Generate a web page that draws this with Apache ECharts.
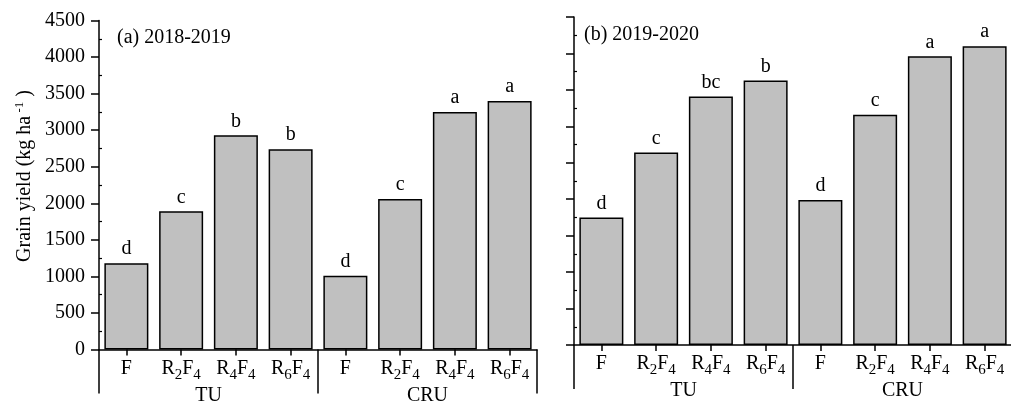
<!DOCTYPE html>
<html>
<head>
<meta charset="utf-8">
<script src="https://cdn.jsdelivr.net/npm/echarts@6/dist/echarts.min.js"></script>
<style>
  html, body { margin: 0; padding: 0; background: #fff; }
  #chart { width: 1011px; height: 403px; }
</style>
</head>
<body>
<div id="chart"></div>
<script>
// Grain yield by tillage group and treatment, two seasons
const treatments = ['F', 'R2F4', 'R4F4', 'R6F4'];
const groups = ['TU', 'CRU'];
const yieldTicks = [0, 500, 1000, 1500, 2000, 2500, 3000, 3500, 4000, 4500];

const yield2018 = [1180, 1890, 2930, 2740, 1010, 2060, 3250, 3400];
const letters2018 = ['d', 'c', 'b', 'b', 'd', 'c', 'a', 'a'];

const yield2019 = [1750, 2640, 3410, 3630, 1990, 3160, 3960, 4100];
const letters2019 = ['d', 'c', 'bc', 'b', 'd', 'c', 'a', 'a'];

const panelTitles = ['(a) 2018-2019', '(b) 2019-2020'];

// one category per group/treatment pair
const categories = [];
groups.forEach(g => treatments.forEach(t => categories.push(g + '|' + t)));

// minor tick positions halfway between the labelled ticks
const minorTicks = yieldTicks.slice(0, -1).map((v, k) => (v + yieldTicks[k + 1]) / 2);

const FONT = 'Liberation Serif';
const INK = '#000';
const FS = 20;

function treatmentLabel(v) {
  const t = v.split('|')[1];
  const m = t.match(/^R(\d)F(\d)$/);
  if (m) return '{m|R}{s|' + m[1] + '}{m|F}{s|' + m[2] + '}';
  return '{m|' + t + '}';
}

const richSub = {
  m: { fontFamily: FONT, fontSize: FS, color: INK, lineHeight: 28, verticalAlign: 'middle' },
  s: { fontFamily: FONT, fontSize: 15, color: INK, lineHeight: 15, verticalAlign: 'bottom' }
};

const grids = [
  { left: 99, top: 20.5, width: 438, height: 329 },
  { left: 574, top: 17, width: 438, height: 328 }
];

const xAxes = [];
const yAxes = [];
const series = [];
const datasets = [[yield2018, letters2018], [yield2019, letters2019]];

grids.forEach((g, i) => {
  // treatment axis
  xAxes.push({
    type: 'category', gridIndex: i, data: categories, position: 'bottom',
    axisLine: { show: true, lineStyle: { color: INK, width: 1.5 } },
    axisTick: { show: true, alignWithLabel: true, length: 6, inside: false, lineStyle: { color: INK, width: 1.5 } },
    axisLabel: { formatter: treatmentLabel, rich: richSub, margin: 5, interval: 0 },
    splitLine: { show: false }
  });
  // group brackets (TU / CRU)
  xAxes.push({
    type: 'category', gridIndex: i, data: groups, position: 'bottom',
    axisLine: { show: false },
    axisTick: { show: true, length: 44, interval: 0, lineStyle: { color: INK, width: 1.5 } },
    axisLabel: { fontFamily: FONT, fontSize: FS, color: INK, margin: 36, interval: 0 },
    splitLine: { show: false }
  });
  // yield axis with major ticks outside
  yAxes.push({
    type: 'value', gridIndex: i, min: 0, max: 4500, interval: 500,
    name: i === 0 ? '{m|Grain yield (kg ha}{p| -1}{m| )}' : '',
    nameLocation: 'middle', nameGap: 62, nameRotate: 90,
    nameTextStyle: {
      padding: [0, 0, 0, 18],
      rich: {
        m: { fontFamily: FONT, fontSize: FS, color: INK, lineHeight: 24, verticalAlign: 'middle' },
        p: { fontFamily: FONT, fontSize: 13, color: INK, lineHeight: 24, verticalAlign: 'top', padding: [0, 0, 8, 0] }
      }
    },
    axisLine: { show: true, lineStyle: { color: INK, width: 1.5 } },
    axisTick: { show: true, length: 8, inside: false, lineStyle: { color: INK, width: 1.5 } },
    axisLabel: {
      show: i === 0, margin: 14, fontFamily: FONT, fontSize: FS, color: INK,
      formatter: v => String(v)
    },
    splitLine: { show: false }
  });
  // minor ticks pointing into the plot
  yAxes.push({
    type: 'value', gridIndex: i, min: 0, max: 4500, interval: 500, position: 'left',
    axisLine: { show: false },
    axisTick: { show: true, inside: true, length: 3, customValues: minorTicks, lineStyle: { color: INK, width: 1.2 } },
    axisLabel: { show: false },
    splitLine: { show: false }
  });

  const [vals, letters] = datasets[i];
  series.push({
    type: 'bar', xAxisIndex: i * 2, yAxisIndex: i * 2, data: vals,
    barWidth: 44,
    itemStyle: { color: '#c0c0c0', borderColor: INK, borderWidth: 1.5 },
    label: {
      show: true, position: 'top', distance: 4,
      fontFamily: FONT, fontSize: FS, color: INK,
      formatter: p => letters[p.dataIndex]
    },
    silent: true, animation: false
  });
});

const chart = echarts.init(document.getElementById('chart'));
chart.setOption({
  backgroundColor: '#fff',
  animation: false,
  title: [
    { text: panelTitles[0], left: 117, top: 28, textStyle: { fontFamily: FONT, fontSize: FS, fontWeight: 'normal', color: INK }, padding: 0 },
    { text: panelTitles[1], left: 584, top: 25, textStyle: { fontFamily: FONT, fontSize: FS, fontWeight: 'normal', color: INK }, padding: 0 }
  ],
  grid: grids.map(g => Object.assign({ containLabel: false, outerBoundsMode: 'none' }, g)),
  xAxis: xAxes,
  yAxis: yAxes,
  series: series
});
</script>
</body>
</html>
